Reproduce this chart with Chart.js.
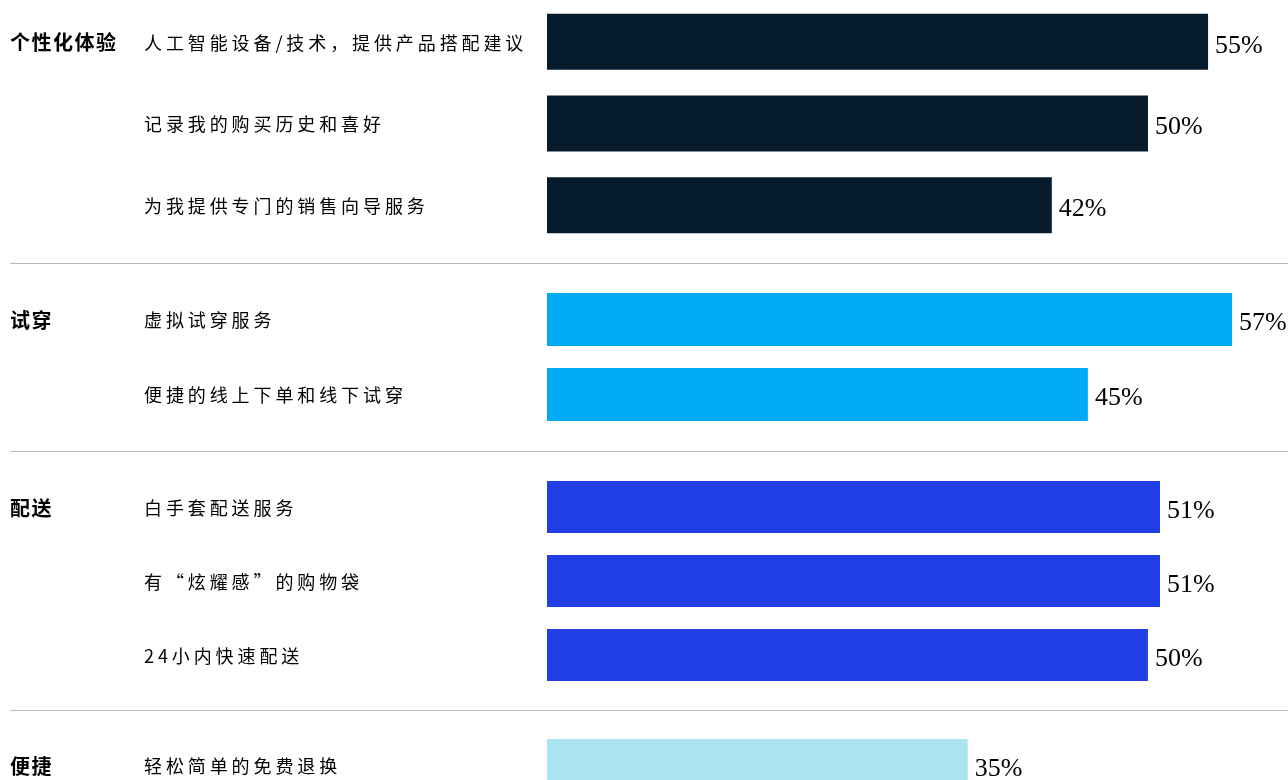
<!DOCTYPE html>
<html>
<head>
<meta charset="utf-8">
<script src="https://cdn.jsdelivr.net/npm/chart.js@4/dist/chart.umd.min.js"></script>
<style>
  html, body { margin: 0; padding: 0; background: #fff; overflow: hidden; }
  #page { position: relative; width: 1288px; height: 780px; overflow: hidden; }
  .block { position: absolute; left: 0; width: 1288px; }
  .rule { position: absolute; left: 10px; right: 0; height: 1px; background: #b9b9b9; }
</style>
</head>
<body>
<div id="page">
  <div class="block" style="top:1px;height:245px"><canvas id="c1" width="1288" height="245"></canvas></div>
  <div class="rule" style="top:263px"></div>
  <div class="block" style="top:282px;height:150px"><canvas id="c2" width="1288" height="150"></canvas></div>
  <div class="rule" style="top:451px"></div>
  <div class="block" style="top:470px;height:222px"><canvas id="c3" width="1288" height="222"></canvas></div>
  <div class="rule" style="top:710px"></div>
  <div class="block" style="top:728px;height:74px"><canvas id="c4" width="1288" height="74"></canvas></div>
</div>
<script>
// 分组名称
const groupNames = ['个性化体验', '试穿', '配送', '便捷'];

// 各组条目与百分比
const personalItems = ['人工智能设备/技术，提供产品搭配建议', '记录我的购买历史和喜好', '为我提供专门的销售向导服务'];
const personalValues = [55, 50, 42];

const tryOnItems = ['虚拟试穿服务', '便捷的线上下单和线下试穿'];
const tryOnValues = [57, 45];

const deliveryItems = ['白手套配送服务', '有“炫耀感”的购物袋', '24小内快速配送'];
const deliveryValues = [51, 51, 50];

const convenienceItems = ['轻松简单的免费退换'];
const convenienceValues = [35];

const CJK = '"Noto Sans CJK SC", "Noto Sans", sans-serif';

// 左侧文字和右侧数值标签
const labelPlugin = {
    id: 'rowLabels',
    afterDatasetsDraw(chart) {
        const c = chart.ctx;
        const yScale = chart.scales.y;
        const meta = chart.getDatasetMeta(0);
        const opts = chart.options.plugins.rowLabels;
        c.save();
        c.fillStyle = '#000';
        c.textBaseline = 'middle';
        c.textAlign = 'left';

        // 组名
        c.font = 'bold 20px ' + CJK;
        c.letterSpacing = '1.5px';
        c.fillText(opts.group, 10, yScale.getPixelForValue(0) + 1);

        // 条目名
        c.font = '18px ' + CJK;
        c.letterSpacing = '3.9px';
        chart.data.labels.forEach((label, i) => {
            c.fillText(label, 144, yScale.getPixelForValue(i) + 1);
        });

        // 数值
        c.letterSpacing = '0px';
        c.font = '26px "Liberation Serif", "DejaVu Serif", serif';
        meta.data.forEach((bar, i) => {
            const v = chart.data.datasets[0].data[i];
            c.fillText(v + '%', bar.x + 7, bar.y + 4);
        });
        c.restore();
    }
};

function makeChart(id, group, items, values, color, barPct) {
    return new Chart(document.getElementById(id), {
        type: 'bar',
        data: {
            labels: items,
            datasets: [{
                data: values,
                backgroundColor: color,
                borderWidth: 0,
                categoryPercentage: 1,
                barPercentage: barPct
            }]
        },
        options: {
            indexAxis: 'y',
            responsive: false,
            animation: false,
            devicePixelRatio: 1,
            layout: { padding: { left: 547, right: 0, top: 0, bottom: 0 } },
            scales: {
                x: { display: false, min: 0, max: 61.65 },
                y: { display: false }
            },
            plugins: {
                legend: { display: false },
                tooltip: { enabled: false },
                rowLabels: { group: group }
            }
        },
        plugins: [labelPlugin]
    });
}

makeChart('c1', groupNames[0], personalItems, personalValues, '#061c2c', 0.686);
makeChart('c2', groupNames[1], tryOnItems, tryOnValues, '#00aaf4', 0.707);
makeChart('c3', groupNames[2], deliveryItems, deliveryValues, '#223fe5', 0.703);
makeChart('c4', groupNames[3], convenienceItems, convenienceValues, '#aae5ef', 0.703);
</script>
</body>
</html>
